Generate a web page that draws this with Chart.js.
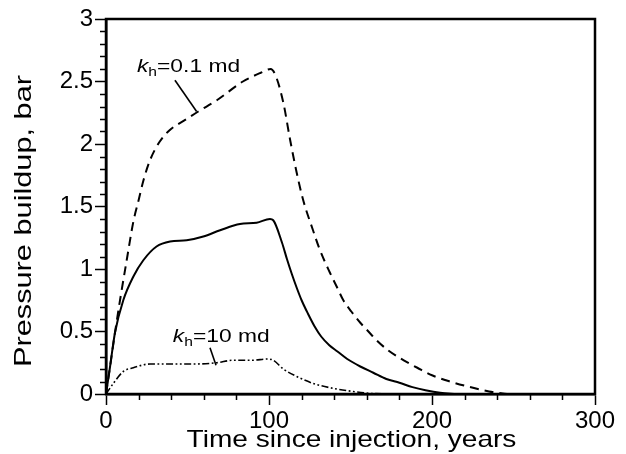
<!DOCTYPE html>
<html>
<head>
<meta charset="utf-8">
<script src="https://cdn.jsdelivr.net/npm/chart.js@4.4.1/dist/chart.umd.min.js"></script>
<style>
  body { margin: 0; background: #fff; }
  canvas { display: block; }
</style>
</head>
<body>
<canvas id="pressureChart" width="626" height="454"></canvas>
<script>
// Curve values (time in years, pressure buildup in bar)
const lowPermTime = [0, 2.5, 5.5, 8.6, 12.7, 16.8, 20, 23, 27, 33, 39, 49.5, 56.6, 68, 84, 95, 101, 104, 108.8, 113, 117, 121, 127, 131, 137.4, 141.5, 145.6, 150.5, 156, 161, 166, 173, 180, 186, 191, 200, 211, 222, 235, 246];
const lowPermPressure = [0, 0.22, 0.49, 0.75, 1.07, 1.38, 1.55, 1.71, 1.87, 2.02, 2.11, 2.2, 2.26, 2.35, 2.5, 2.57, 2.6, 2.55, 2.33, 2.03, 1.77, 1.55, 1.31, 1.16, 0.97, 0.86, 0.75, 0.66, 0.57, 0.50, 0.43, 0.35, 0.29, 0.245, 0.21, 0.15, 0.10, 0.06, 0.02, 0];

const midPermTime = [0, 2.5, 5.5, 10.6, 16.8, 22.9, 31, 39.3, 49.5, 59.7, 70, 82.2, 92.4, 100.6, 102.6, 108, 111, 114, 117, 120, 124, 128, 132, 137, 142, 148, 156, 164, 172, 180, 188, 196, 205, 215];
const midPermPressure = [0, 0.22, 0.49, 0.75, 0.94, 1.07, 1.18, 1.22, 1.23, 1.26, 1.31, 1.36, 1.37, 1.40, 1.39, 1.21, 1.08, 0.96, 0.85, 0.75, 0.64, 0.54, 0.46, 0.39, 0.34, 0.28, 0.22, 0.17, 0.12, 0.09, 0.055, 0.03, 0.01, 0];

const highPermTime = [0, 4.5, 10.6, 16.8, 27, 37, 54, 68, 78, 90, 99, 102.6, 108.8, 117, 127, 139.5, 151.7, 162, 175];
const highPermPressure = [0, 0.085, 0.18, 0.21, 0.24, 0.24, 0.24, 0.25, 0.27, 0.27, 0.28, 0.27, 0.20, 0.14, 0.085, 0.045, 0.02, 0.005, 0];

// Leader lines from the labels to their curves
const leaderLowTime = [42.3, 55.6];
const leaderLowPressure = [2.51, 2.26];
const leaderHighTime = [63.8, 67.5];
const leaderHighPressure = [0.37, 0.23];

// Curve labels (anchor = left end of text baseline)
const labelValues = ['0.1 md', '10 md'];
const labelTime = [19, 41];
const labelPressure = [2.58, 0.42];

// Axis setup
const xMax = 300;
const yMax = 3;
const xStep = 20;
const yStep = 0.1;
const xLabelEvery = 100;
const yLabelEvery = 0.5;
const xTitle = 'Time since injection, years';
const yTitle = 'Pressure buildup, bar';

const FONT = '"Liberation Sans", Arial, Helvetica, sans-serif';

function toPoints(xs, ys) {
    return xs.map((x, i) => ({ x: x, y: ys[i] }));
}

function isMultiple(v, step) {
    const r = v / step;
    return Math.abs(r - Math.round(r)) < 1e-6;
}

// Draws the frame, minor ticks, titles and curve labels
const extrasPlugin = {
    id: 'extras',
    afterDraw(chart) {
        const ctx = chart.ctx;
        const area = chart.chartArea;
        const xs = chart.scales.x;
        const ys = chart.scales.y;

        ctx.save();
        ctx.strokeStyle = '#000';

        // box around plot
        ctx.lineWidth = 2.5;
        ctx.strokeRect(area.left, area.top, area.right - area.left, area.bottom - area.top);

        // minor ticks
        ctx.lineWidth = 1.5;
        ctx.beginPath();
        xs.ticks.forEach(t => {
            if (!isMultiple(t.value, xLabelEvery)) {
                const px = Math.round(xs.getPixelForValue(t.value)) + 0.5;
                ctx.moveTo(px, area.bottom);
                ctx.lineTo(px, area.bottom + 6);
            }
        });
        ys.ticks.forEach(t => {
            if (!isMultiple(t.value, yLabelEvery)) {
                const py = Math.round(ys.getPixelForValue(t.value)) + 0.5;
                ctx.moveTo(area.left, py);
                ctx.lineTo(area.left - 6, py);
            }
        });
        ctx.stroke();

        ctx.fillStyle = '#000';

        // axis titles (the figure's lettering is a bit wider than Arial)
        ctx.textBaseline = 'alphabetic';
        ctx.textAlign = 'center';
        ctx.font = '24px ' + FONT;
        ctx.save();
        ctx.translate((area.left + area.right) / 2 + 1, 447);
        ctx.scale(1.17, 1);
        ctx.fillText(xTitle, 0, 0);
        ctx.restore();

        ctx.save();
        ctx.translate(31, 221);
        ctx.rotate(-Math.PI / 2);
        ctx.scale(1.28, 1);
        ctx.fillText(yTitle, 0, 0);
        ctx.restore();

        // curve labels: k (italic) with subscript h
        ctx.textAlign = 'left';
        labelValues.forEach((val, i) => {
            const px = xs.getPixelForValue(labelTime[i]);
            const py = ys.getPixelForValue(labelPressure[i]);
            ctx.save();
            ctx.translate(px, py);
            ctx.scale(1.2, 1);
            let cx = 0;
            ctx.font = 'italic 19px ' + FONT;
            ctx.fillText('k', cx, 0);
            cx += ctx.measureText('k').width;
            ctx.font = '13px ' + FONT;
            ctx.fillText('h', cx, 4);
            cx += ctx.measureText('h').width;
            ctx.font = '19px ' + FONT;
            ctx.fillText('=' + val, cx, 0);
            ctx.restore();
        });

        ctx.restore();
    }
};

const tickFont = { family: FONT, size: 24 };

new Chart(document.getElementById('pressureChart'), {
    type: 'line',
    data: {
        datasets: [
            {
                label: 'kh = 0.1 md',
                data: toPoints(lowPermTime, lowPermPressure),
                borderColor: '#000',
                borderWidth: 2,
                borderDash: [9, 6],
                cubicInterpolationMode: 'monotone'
            },
            {
                label: 'kh = 1 md',
                data: toPoints(midPermTime, midPermPressure),
                borderColor: '#000',
                borderWidth: 2,
                cubicInterpolationMode: 'monotone'
            },
            {
                label: 'kh = 10 md',
                data: toPoints(highPermTime, highPermPressure),
                borderColor: '#000',
                borderWidth: 1.6,
                borderDash: [7, 2.5, 1.8, 2.5, 1.8, 2.5],
                cubicInterpolationMode: 'monotone'
            },
            {
                label: 'leader 0.1',
                data: toPoints(leaderLowTime, leaderLowPressure),
                borderColor: '#000',
                borderWidth: 1.6
            },
            {
                label: 'leader 10',
                data: toPoints(leaderHighTime, leaderHighPressure),
                borderColor: '#000',
                borderWidth: 1.6
            }
        ]
    },
    options: {
        responsive: false,
        animation: false,
        elements: { point: { radius: 0 } },
        layout: { padding: { left: 0, top: 19, right: 31, bottom: 0 } },
        plugins: {
            legend: { display: false },
            tooltip: { enabled: false }
        },
        scales: {
            x: {
                type: 'linear',
                min: 0,
                max: xMax,
                afterFit: scale => { scale.height = 60; },
                border: { color: '#000', width: 2.5 },
                grid: {
                    drawOnChartArea: false,
                    tickLength: 11,
                    tickWidth: 1.5,
                    tickColor: c => (c.tick && isMultiple(c.tick.value, xLabelEvery)) ? '#000' : 'rgba(0,0,0,0)'
                },
                ticks: {
                    stepSize: xStep,
                    autoSkip: false,
                    maxRotation: 0,
                    padding: 2,
                    color: '#000',
                    font: tickFont,
                    callback: v => isMultiple(v, xLabelEvery) ? String(Math.round(v)) : ''
                }
            },
            y: {
                type: 'linear',
                min: 0,
                max: yMax,
                afterFit: scale => { scale.width = 106; },
                border: { color: '#000', width: 2.5 },
                grid: {
                    drawOnChartArea: false,
                    tickLength: 11,
                    tickWidth: 1.5,
                    tickColor: c => (c.tick && isMultiple(c.tick.value, yLabelEvery)) ? '#000' : 'rgba(0,0,0,0)'
                },
                ticks: {
                    stepSize: yStep,
                    autoSkip: false,
                    padding: 2,
                    color: '#000',
                    font: tickFont,
                    callback: v => isMultiple(v, yLabelEvery) ? String(Math.round(v * 10) / 10) : ''
                }
            }
        }
    },
    plugins: [extrasPlugin]
});
</script>
</body>
</html>
